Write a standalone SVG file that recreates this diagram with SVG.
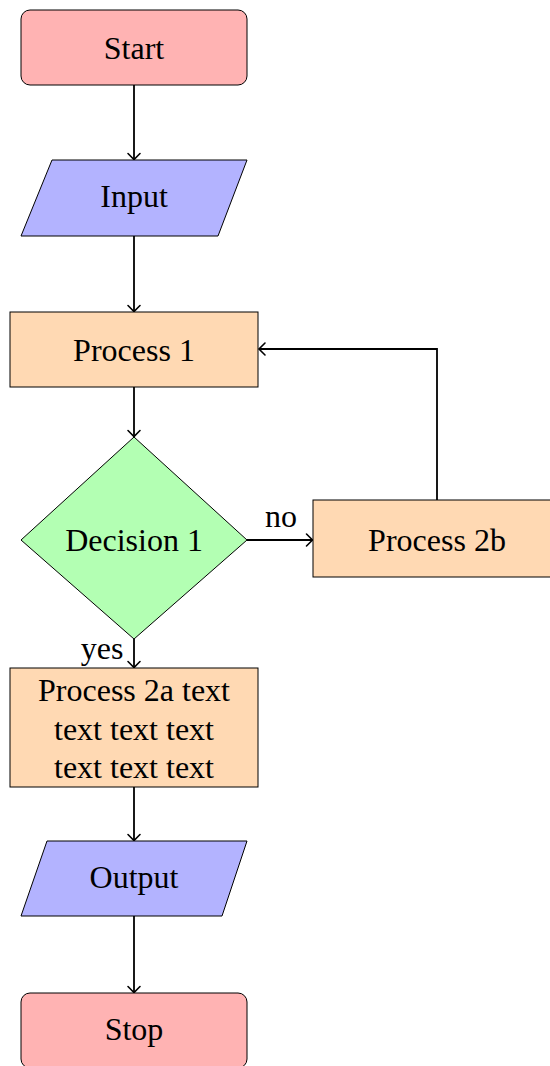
<svg xmlns="http://www.w3.org/2000/svg" width="550" height="1066" viewBox="0 0 550 1066">
<style>
text{font-family:"Liberation Serif","DejaVu Serif",serif;font-size:32px;fill:#000;text-anchor:middle}
.term{fill:#FFB3B3;stroke:#000;stroke-width:1}
.io{fill:#B3B3FF;stroke:#000;stroke-width:1}
.proc{fill:#FFD9B3;stroke:#000;stroke-width:1}
.dec{fill:#B3FFB3;stroke:#000;stroke-width:1}
.conn{fill:none;stroke:#000;stroke-width:1.8;marker-end:url(#arr)}
</style>
<defs>
<marker id="arr" markerUnits="userSpaceOnUse" viewBox="-8 -8 10 16" refX="0" refY="0" markerWidth="10" markerHeight="16" orient="auto" overflow="visible">
<path d="M-6,-6 Q-2,-2 0,0 Q-2,2 -6,6" fill="none" stroke="#000" stroke-width="1.6" stroke-linecap="round"/>
</marker>
</defs>
<rect width="550" height="1066" fill="#fff"/>
<g id="connectors">
<path class="conn" d="M134,85 V159.5"/>
<path class="conn" d="M134,236 V311.5"/>
<path class="conn" d="M134,387 V436.5"/>
<path class="conn" d="M247,540 H312.5"/>
<path class="conn" d="M437,500 V349 H259"/>
<path class="conn" d="M134,639 V667.5"/>
<path class="conn" d="M134,787 V840.5"/>
<path class="conn" d="M134,916 V992.5"/>
<text x="281" y="527">no</text>
<text x="102" y="659">yes</text>
</g>
<g id="start">
<rect class="term" x="21" y="10" width="226" height="75" rx="9"/>
<text x="134" y="59">Start</text>
</g>
<g id="input">
<polygon class="io" points="52,160 247,160 218,236 21,236"/>
<text x="134" y="207">Input</text>
</g>
<g id="process1">
<rect class="proc" x="10" y="312" width="248" height="75"/>
<text x="134" y="361">Process 1</text>
</g>
<g id="decision1">
<polygon class="dec" points="134,437 247,540 134,639 21,540"/>
<text x="134" y="551">Decision 1</text>
</g>
<g id="process2b">
<rect class="proc" x="313" y="500" width="248" height="77"/>
<text x="437" y="551">Process 2b</text>
</g>
<g id="process2a">
<rect class="proc" x="10" y="668" width="248" height="119"/>
<text x="134" y="701">Process 2a text</text>
<text x="134" y="740">text text text</text>
<text x="134" y="778">text text text</text>
</g>
<g id="output">
<polygon class="io" points="47,841 247,841 222,916 21,916"/>
<text x="134" y="888">Output</text>
</g>
<g id="stop">
<rect class="term" x="21" y="993" width="226" height="75" rx="9"/>
<text x="134" y="1040">Stop</text>
</g>
</svg>
